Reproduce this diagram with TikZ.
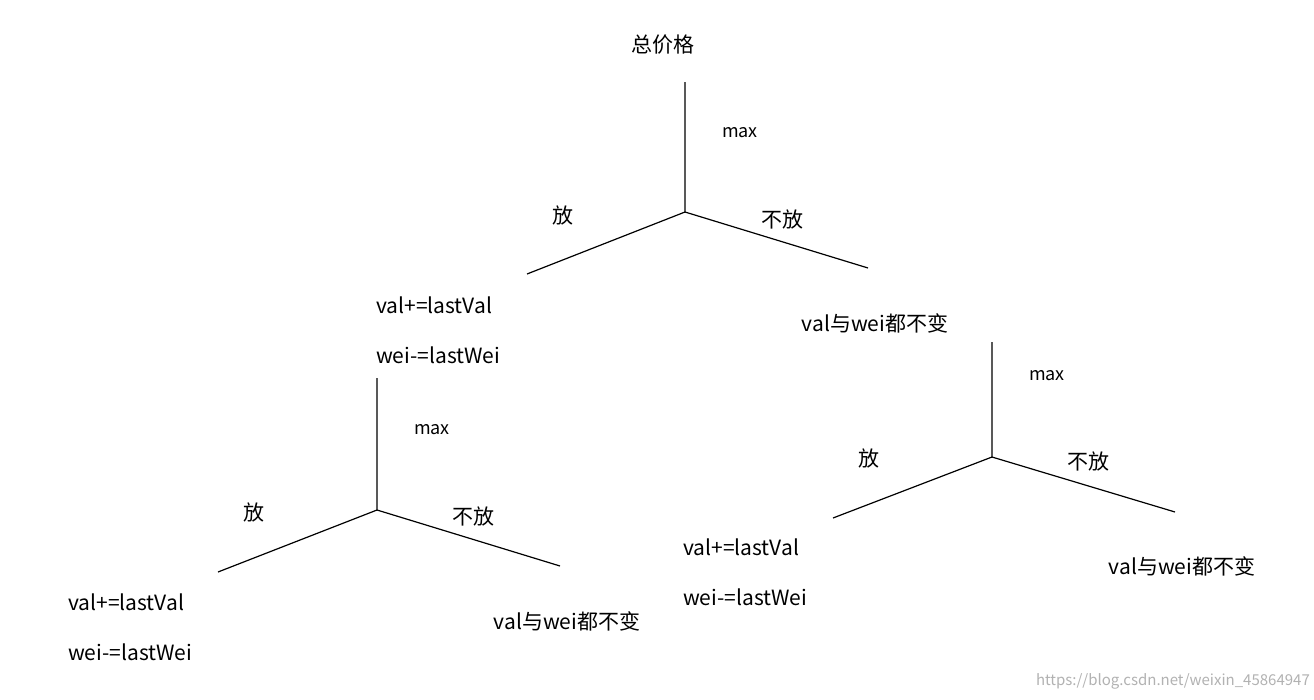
\documentclass[tikz,border=0pt]{standalone}
\usepackage{fontspec}
\setmainfont{Noto Sans CJK SC}
\begin{document}
\begin{tikzpicture}[x=1pt,y=-1pt,
  t/.style={inner sep=0pt,font=\fontsize{21}{25}\selectfont},
  tl/.style={t,anchor=west},
  m/.style={inner sep=0pt,font=\fontsize{18}{22}\selectfont},
  ln/.style={line width=1.2pt}]
\useasboundingbox[fill=white] (0,0) rectangle (1314,699);
\node[t] (root) at (663,45) {总价格};
\coordinate (r0) at (685,82);
\coordinate (r1) at (685,212);
\coordinate (rl) at (527,274);
\coordinate (rr) at (868,268);
\draw[ln] (r0) -- (r1) -- (rl); \draw[ln] (r1) -- (rr);
\node[m] (m1) at (740,133) {max};
\node[t] (f1) at (563,216) {放};
\node[t] (b1) at (782,220) {不放};
\node[tl] (a1) at (376,305) {val+=lastVal};
\node[tl] (w1) at (376,355) {wei-=lastWei};
\node[t] (n1) at (875,323) {val与wei都不变};
% right subtree
\coordinate (s0) at (992,342);
\coordinate (s1) at (992,457);
\coordinate (sl) at (833,518);
\coordinate (sr) at (1175,512);
\draw[ln] (s0) -- (s1) -- (sl); \draw[ln] (s1) -- (sr);
\node[m] (m2) at (1047,376) {max};
\node[t] (f2) at (869,459) {放};
\node[t] (b2) at (1088,462) {不放};
\node[tl] (a2) at (683,547) {val+=lastVal};
\node[tl] (w2) at (683,597) {wei-=lastWei};
\node[t] (n2) at (1182,566) {val与wei都不变};
% left subtree
\coordinate (u0) at (377,378);
\coordinate (u1) at (377,510);
\coordinate (ul) at (218,572);
\coordinate (ur) at (560,566);
\draw[ln] (u0) -- (u1) -- (ul); \draw[ln] (u1) -- (ur);
\node[m] (m3) at (432,430) {max};
\node[t] (f3) at (254,513) {放};
\node[t] (b3) at (473,517) {不放};
\node[tl] (a3) at (68,602) {val+=lastVal};
\node[tl] (w3) at (68,652) {wei-=lastWei};
\node[t] (n3) at (567,621) {val与wei都不变};
\node[inner sep=0pt,text=gray!60,font=\fontsize{15}{18}\selectfont,anchor=east] (wm) at (1310,681) {https://blog.csdn.net/weixin\_45864947};
\end{tikzpicture}
\end{document}
